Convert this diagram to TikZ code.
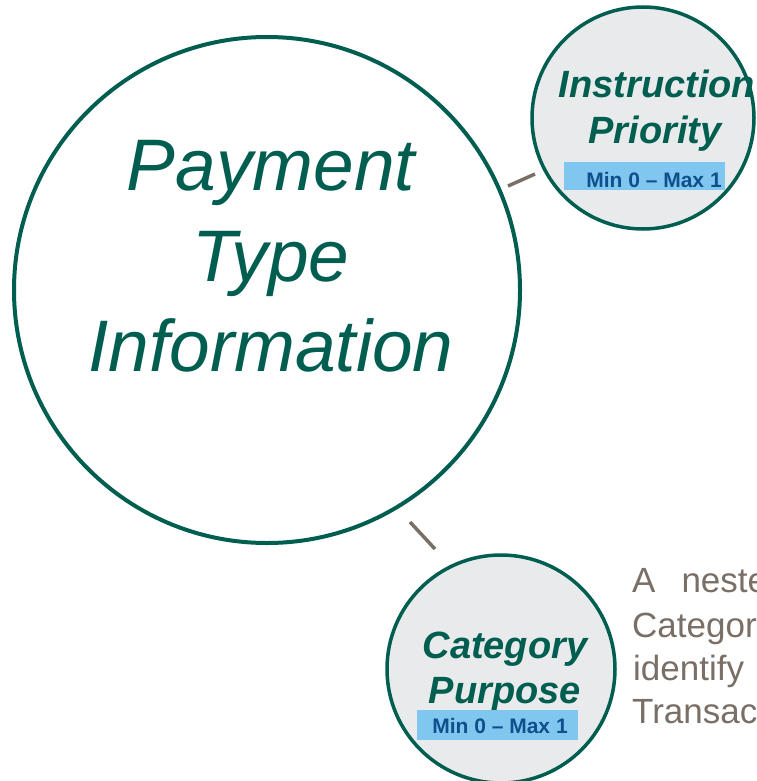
\documentclass[tikz,border=0pt]{standalone}
\usepackage{fontspec}
\setmainfont{Liberation Sans}
\definecolor{ptgreen}{HTML}{005E50}
\definecolor{ptfill}{HTML}{E9EAEC}
\definecolor{ptbox}{HTML}{80C7F0}
\definecolor{ptblue}{HTML}{0E4F8C}
\definecolor{ptgray}{HTML}{7A6F67}
\begin{document}
\begin{tikzpicture}[x=1pt,y=-1pt,
  bigc/.style={circle,draw=ptgreen,line width=4pt,inner sep=0pt,minimum size=506pt},
  smallc/.style={circle,draw=ptgreen,fill=ptfill,line width=3.5pt,inner sep=0pt},
  bigtxt/.style={anchor=base,inner sep=0pt,text=ptgreen,font=\fontsize{73}{88}\selectfont\itshape},
  smalltxt/.style={anchor=base,inner sep=0pt,text=ptgreen,font=\fontsize{38}{45}\selectfont\bfseries\itshape},
  minmax/.style={rectangle,fill=ptbox,inner sep=0pt,minimum width=161pt,minimum height=28pt},
  mmtxt/.style={anchor=base,inner sep=0pt,text=ptblue,font=\fontsize{21}{24}\selectfont\bfseries},
  desc/.style={anchor=base west,inner sep=0pt,text=ptgray,font=\fontsize{35}{43}\selectfont},
  link/.style={draw=ptgray,line width=3.5pt}]
\useasboundingbox (0,0) rectangle (756,781);
\clip (0,0) rectangle (756,781);
\fill[white] (0,0) rectangle (756,781);
% big circle
\node[bigc] (pti) at (267,290) {};
\node[bigtxt] (pt1) at (271,190) {Payment};
\node[bigtxt] (pt2) at (271,281) {Type};
\node[bigtxt] (pt3) at (271,371) {Information};
% instruction priority
\node[smallc,minimum size=222pt] (ip) at (643,118) {};
\node[smalltxt] (ip1) at (657,98) {Instruction};
\node[smalltxt] (ip2) at (655,143) {Priority};
\node[minmax] (ipbox) at (644.5,176) {};
\node[mmtxt] (ipmm) at (654,187) {Min 0 – Max 1};
% category purpose
\node[smallc,minimum size=228pt] (cp) at (501,669) {};
\node[smalltxt] (cp1) at (505,658) {Category};
\node[smalltxt] (cp2) at (505,703) {Purpose};
\node[minmax,minimum height=30pt] (cpbox) at (497.5,725) {};
\node[mmtxt] (cpmm) at (500,733) {Min 0 – Max 1};
% connectors
\coordinate (l1a) at (508,186);
\coordinate (l1b) at (535,174);
\coordinate (l2a) at (410,522);
\coordinate (l2b) at (435,549);
\draw[link] (l1a) -- (l1b);
\draw[link] (l2a) -- (l2b);
% description
\node[desc] (d1) at (632,592) {A\hspace{26pt}nested};
\node[desc] (d2) at (632,637) {Category};
\node[desc] (d3) at (633,680) {identify};
\node[desc] (d4) at (632,723) {Transaction};
\end{tikzpicture}
\end{document}
